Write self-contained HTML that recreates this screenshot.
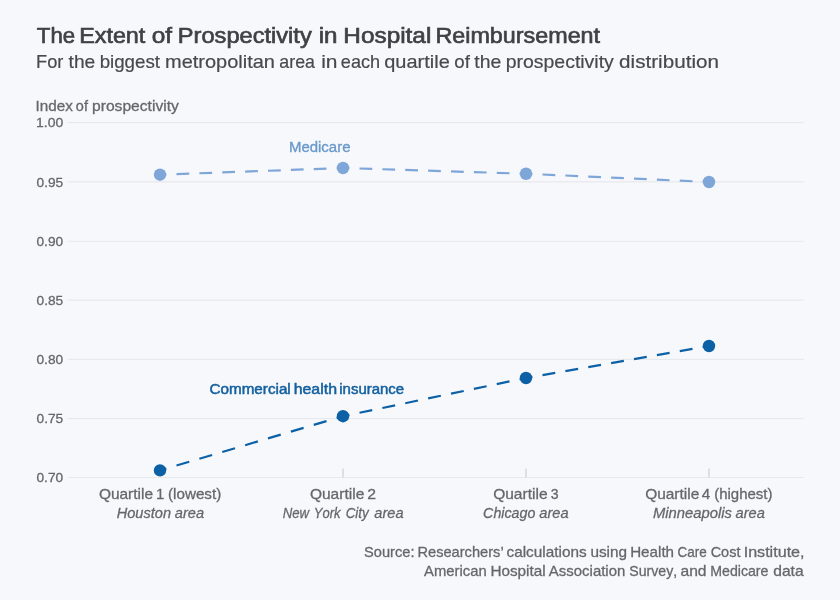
<!DOCTYPE html>
<html>
<head>
<meta charset="utf-8">
<title>The Extent of Prospectivity in Hospital Reimbursement</title>
<style>
  html, body { margin: 0; padding: 0; background: #f7f8fc; }
  body { width: 840px; height: 600px; overflow: hidden; }
  svg { display: block; position: absolute; left: 0; top: 0; will-change: transform; }
  text { font-family: "Liberation Sans", sans-serif; font-kerning: none; }
</style>
</head>
<body>
<svg width="840" height="600" viewBox="0 0 840 600">
  <rect x="0" y="0" width="840" height="600" fill="#f7f8fc"/>

  <!-- Title -->
  <g>
    <text x="36.83" y="43.375" font-size="22.17" fill="#404144" stroke="#404144" stroke-width="0.65" stroke-linejoin="miter" textLength="38.34" lengthAdjust="spacingAndGlyphs">The</text>
    <text x="79.16" y="43.375" font-size="22.17" fill="#404144" stroke="#404144" stroke-width="0.65" stroke-linejoin="miter" textLength="66.19" lengthAdjust="spacingAndGlyphs">Extent</text>
    <text x="151.80" y="43.375" font-size="22.17" fill="#404144" stroke="#404144" stroke-width="0.65" stroke-linejoin="miter" textLength="20.34" lengthAdjust="spacingAndGlyphs">of</text>
    <text x="177.89" y="43.375" font-size="22.17" fill="#404144" stroke="#404144" stroke-width="0.65" stroke-linejoin="miter" textLength="133.83" lengthAdjust="spacingAndGlyphs">Prospectivity</text>
    <text x="318.71" y="43.375" font-size="22.17" fill="#404144" stroke="#404144" stroke-width="0.65" stroke-linejoin="miter" textLength="18.78" lengthAdjust="spacingAndGlyphs">in</text>
    <text x="343.33" y="43.375" font-size="22.17" fill="#404144" stroke="#404144" stroke-width="0.65" stroke-linejoin="miter" textLength="87.98" lengthAdjust="spacingAndGlyphs">Hospital</text>
    <text x="435.41" y="43.375" font-size="22.17" fill="#404144" stroke="#404144" stroke-width="0.65" stroke-linejoin="miter" textLength="164.68" lengthAdjust="spacingAndGlyphs">Reimbursement</text>
  </g>
  <!-- Subtitle -->
  <g>
    <text x="36.10" y="67.7" font-size="19.04" fill="#48494d" stroke="#48494d" stroke-width="0.2" stroke-linejoin="miter" textLength="27.35" lengthAdjust="spacingAndGlyphs">For</text>
    <text x="68.56" y="67.7" font-size="19.04" fill="#48494d" stroke="#48494d" stroke-width="0.2" stroke-linejoin="miter" textLength="26.69" lengthAdjust="spacingAndGlyphs">the</text>
    <text x="99.64" y="67.7" font-size="19.04" fill="#48494d" stroke="#48494d" stroke-width="0.2" stroke-linejoin="miter" textLength="60.39" lengthAdjust="spacingAndGlyphs">biggest</text>
    <text x="165.02" y="67.7" font-size="19.04" fill="#48494d" stroke="#48494d" stroke-width="0.2" stroke-linejoin="miter" textLength="109.92" lengthAdjust="spacingAndGlyphs">metropolitan</text>
    <text x="279.35" y="67.7" font-size="19.04" fill="#48494d" stroke="#48494d" stroke-width="0.2" stroke-linejoin="miter" textLength="35.55" lengthAdjust="spacingAndGlyphs">area</text>
    <text x="321.20" y="67.7" font-size="19.04" fill="#48494d" stroke="#48494d" stroke-width="0.2" stroke-linejoin="miter" textLength="16.31" lengthAdjust="spacingAndGlyphs">in</text>
    <text x="340.83" y="67.7" font-size="19.04" fill="#48494d" stroke="#48494d" stroke-width="0.2" stroke-linejoin="miter" textLength="39.24" lengthAdjust="spacingAndGlyphs">each</text>
    <text x="384.26" y="67.7" font-size="19.04" fill="#48494d" stroke="#48494d" stroke-width="0.2" stroke-linejoin="miter" textLength="65.53" lengthAdjust="spacingAndGlyphs">quartile</text>
    <text x="454.32" y="67.7" font-size="19.04" fill="#48494d" stroke="#48494d" stroke-width="0.2" stroke-linejoin="miter" textLength="15.56" lengthAdjust="spacingAndGlyphs">of</text>
    <text x="474.31" y="67.7" font-size="19.04" fill="#48494d" stroke="#48494d" stroke-width="0.2" stroke-linejoin="miter" textLength="26.96" lengthAdjust="spacingAndGlyphs">the</text>
    <text x="505.65" y="67.7" font-size="19.04" fill="#48494d" stroke="#48494d" stroke-width="0.2" stroke-linejoin="miter" textLength="108.19" lengthAdjust="spacingAndGlyphs">prospectivity</text>
    <text x="619.13" y="67.7" font-size="19.04" fill="#48494d" stroke="#48494d" stroke-width="0.2" stroke-linejoin="miter" textLength="99.81" lengthAdjust="spacingAndGlyphs">distribution</text>
  </g>
  <!-- Axis title -->
  <g>
    <text x="35.64" y="110.55" font-size="15.12" fill="#66676b" stroke="#66676b" stroke-width="0.3" stroke-linejoin="miter" textLength="37.27" lengthAdjust="spacingAndGlyphs">Index</text>
    <text x="75.84" y="110.55" font-size="15.12" fill="#66676b" stroke="#66676b" stroke-width="0.3" stroke-linejoin="miter" textLength="12.09" lengthAdjust="spacingAndGlyphs">of</text>
    <text x="92.04" y="110.55" font-size="15.12" fill="#66676b" stroke="#66676b" stroke-width="0.3" stroke-linejoin="miter" textLength="86.84" lengthAdjust="spacingAndGlyphs">prospectivity</text>
  </g>
  <!-- Gridlines -->
  <g stroke="#e8e9ed" stroke-width="1.1">
    <line x1="67.5" x2="803.8" y1="122.60" y2="122.60"/>
    <line x1="67.5" x2="803.8" y1="181.90" y2="181.90"/>
    <line x1="67.5" x2="803.8" y1="241.25" y2="241.25"/>
    <line x1="67.5" x2="803.8" y1="300.15" y2="300.15"/>
    <line x1="67.5" x2="803.8" y1="359.35" y2="359.35"/>
    <line x1="67.5" x2="803.8" y1="418.60" y2="418.60"/>
    <line x1="67.5" x2="803.8" y1="477.50" y2="477.50"/>
  </g>
  <!-- X ticks -->
  <g stroke="#d3d4d8" stroke-width="1.4">
    <line x1="343" x2="343" y1="468.5" y2="477.5"/>
    <line x1="526" x2="526" y1="468.5" y2="477.5"/>
    <line x1="709" x2="709" y1="468.5" y2="477.5"/>
  </g>
  <!-- Y labels -->
  <g>
    <text x="35.99" y="127.25" font-size="13.66" fill="#66676b" stroke="#66676b" stroke-width="0.3" stroke-linejoin="miter" textLength="27.21" lengthAdjust="spacingAndGlyphs">1.00</text>
    <text x="36.51" y="186.54999999999998" font-size="13.66" fill="#66676b" stroke="#66676b" stroke-width="0.3" stroke-linejoin="miter" textLength="26.71" lengthAdjust="spacingAndGlyphs">0.95</text>
    <text x="36.51" y="245.9" font-size="13.66" fill="#66676b" stroke="#66676b" stroke-width="0.3" stroke-linejoin="miter" textLength="26.67" lengthAdjust="spacingAndGlyphs">0.90</text>
    <text x="36.51" y="304.8" font-size="13.66" fill="#66676b" stroke="#66676b" stroke-width="0.3" stroke-linejoin="miter" textLength="26.71" lengthAdjust="spacingAndGlyphs">0.85</text>
    <text x="36.51" y="364.0" font-size="13.66" fill="#66676b" stroke="#66676b" stroke-width="0.3" stroke-linejoin="miter" textLength="26.67" lengthAdjust="spacingAndGlyphs">0.80</text>
    <text x="36.51" y="423.25" font-size="13.66" fill="#66676b" stroke="#66676b" stroke-width="0.3" stroke-linejoin="miter" textLength="26.71" lengthAdjust="spacingAndGlyphs">0.75</text>
    <text x="36.51" y="482.15000000000003" font-size="13.66" fill="#66676b" stroke="#66676b" stroke-width="0.3" stroke-linejoin="miter" textLength="26.67" lengthAdjust="spacingAndGlyphs">0.70</text>
  </g>
  <!-- Medicare series -->
  <g stroke="#7ea6d8" stroke-width="2.2" fill="none">
    <line x1="160" y1="174.7" x2="343" y2="168" pathLength="8" stroke-dasharray="0.557 0.443" stroke-dashoffset="0.2785"/>
    <line x1="343" y1="168" x2="526" y2="173.75" pathLength="8" stroke-dasharray="0.557 0.443" stroke-dashoffset="0.2785"/>
    <line x1="526" y1="173.75" x2="709" y2="182" pathLength="8" stroke-dasharray="0.557 0.443" stroke-dashoffset="0.2785"/>
  </g>
  <g fill="#7ea6d8">
    <circle cx="160" cy="174.7" r="6.2"/>
    <circle cx="343" cy="168" r="6.2"/>
    <circle cx="526" cy="173.75" r="6.2"/>
    <circle cx="709" cy="182" r="6.2"/>
  </g>
  <!-- Commercial series -->
  <g stroke="#0c60a6" stroke-width="2.2" fill="none">
    <line x1="160" y1="470.4" x2="343" y2="416.2" pathLength="8" stroke-dasharray="0.557 0.443" stroke-dashoffset="0.2785"/>
    <line x1="343" y1="416.2" x2="526" y2="378" pathLength="8" stroke-dasharray="0.557 0.443" stroke-dashoffset="0.2785"/>
    <line x1="526" y1="378" x2="709" y2="346" pathLength="8" stroke-dasharray="0.557 0.443" stroke-dashoffset="0.2785"/>
  </g>
  <g fill="#0c60a6">
    <circle cx="160" cy="470.4" r="6.2"/>
    <circle cx="343" cy="416.2" r="6.2"/>
    <circle cx="526" cy="378" r="6.2"/>
    <circle cx="709" cy="346" r="6.2"/>
  </g>
  <!-- Series labels -->
  <g>
    <text x="288.95" y="151.52499999999998" font-size="14.75" fill="#6a9acb" stroke="#6a9acb" stroke-width="0.35" stroke-linejoin="miter" textLength="61.54" lengthAdjust="spacingAndGlyphs">Medicare</text>
    <text x="209.48" y="393.55" font-size="14.68" fill="#13609f" stroke="#13609f" stroke-width="0.5" stroke-linejoin="miter" textLength="81.29" lengthAdjust="spacingAndGlyphs">Commercial</text>
    <text x="293.65" y="393.55" font-size="14.68" fill="#13609f" stroke="#13609f" stroke-width="0.5" stroke-linejoin="miter" textLength="43.39" lengthAdjust="spacingAndGlyphs">health</text>
    <text x="339.25" y="393.55" font-size="14.68" fill="#13609f" stroke="#13609f" stroke-width="0.5" stroke-linejoin="miter" textLength="64.92" lengthAdjust="spacingAndGlyphs">insurance</text>
  </g>
  <!-- X labels -->
  <g>
    <text x="98.92" y="498.75" font-size="15.41" fill="#66676b" stroke="#66676b" stroke-width="0.3" stroke-linejoin="miter" textLength="54.12" lengthAdjust="spacingAndGlyphs">Quartile</text>
    <text x="156.01" y="498.75" font-size="15.41" fill="#66676b" stroke="#66676b" stroke-width="0.3" stroke-linejoin="miter" textLength="8.32" lengthAdjust="spacingAndGlyphs">1</text>
    <text x="167.96" y="498.75" font-size="15.41" fill="#66676b" stroke="#66676b" stroke-width="0.3" stroke-linejoin="miter" textLength="53.34" lengthAdjust="spacingAndGlyphs">(lowest)</text>
    <text x="309.91" y="498.75" font-size="15.41" fill="#66676b" stroke="#66676b" stroke-width="0.3" stroke-linejoin="miter" textLength="54.38" lengthAdjust="spacingAndGlyphs">Quartile</text>
    <text x="367.36" y="498.75" font-size="15.41" fill="#66676b" stroke="#66676b" stroke-width="0.3" stroke-linejoin="miter" textLength="8.79" lengthAdjust="spacingAndGlyphs">2</text>
    <text x="493.16" y="498.75" font-size="15.41" fill="#66676b" stroke="#66676b" stroke-width="0.3" stroke-linejoin="miter" textLength="54.38" lengthAdjust="spacingAndGlyphs">Quartile</text>
    <text x="550.86" y="498.75" font-size="15.41" fill="#66676b" stroke="#66676b" stroke-width="0.3" stroke-linejoin="miter" textLength="7.86" lengthAdjust="spacingAndGlyphs">3</text>
    <text x="645.17" y="498.75" font-size="15.41" fill="#66676b" stroke="#66676b" stroke-width="0.3" stroke-linejoin="miter" textLength="54.12" lengthAdjust="spacingAndGlyphs">Quartile</text>
    <text x="701.80" y="498.75" font-size="15.41" fill="#66676b" stroke="#66676b" stroke-width="0.3" stroke-linejoin="miter" textLength="8.50" lengthAdjust="spacingAndGlyphs">4</text>
    <text x="714.22" y="498.75" font-size="15.41" fill="#66676b" stroke="#66676b" stroke-width="0.3" stroke-linejoin="miter" textLength="58.31" lengthAdjust="spacingAndGlyphs">(highest)</text>
    <text x="116.70" y="517.95" font-size="15.41" font-style="italic" fill="#66676b" stroke="#66676b" stroke-width="0.3" stroke-linejoin="miter" textLength="54.31" lengthAdjust="spacingAndGlyphs">Houston</text>
    <text x="174.82" y="517.95" font-size="15.41" font-style="italic" fill="#66676b" stroke="#66676b" stroke-width="0.3" stroke-linejoin="miter" textLength="29.28" lengthAdjust="spacingAndGlyphs">area</text>
    <text x="282.74" y="517.95" font-size="15.41" font-style="italic" fill="#66676b" stroke="#66676b" stroke-width="0.3" stroke-linejoin="miter" textLength="26.40" lengthAdjust="spacingAndGlyphs">New</text>
    <text x="313.80" y="517.95" font-size="15.41" font-style="italic" fill="#66676b" stroke="#66676b" stroke-width="0.3" stroke-linejoin="miter" textLength="26.76" lengthAdjust="spacingAndGlyphs">York</text>
    <text x="345.66" y="517.95" font-size="15.41" font-style="italic" fill="#66676b" stroke="#66676b" stroke-width="0.3" stroke-linejoin="miter" textLength="23.02" lengthAdjust="spacingAndGlyphs">City</text>
    <text x="374.32" y="517.95" font-size="15.41" font-style="italic" fill="#66676b" stroke="#66676b" stroke-width="0.3" stroke-linejoin="miter" textLength="29.28" lengthAdjust="spacingAndGlyphs">area</text>
    <text x="483.12" y="517.95" font-size="15.41" font-style="italic" fill="#66676b" stroke="#66676b" stroke-width="0.3" stroke-linejoin="miter" textLength="52.19" lengthAdjust="spacingAndGlyphs">Chicago</text>
    <text x="539.32" y="517.95" font-size="15.41" font-style="italic" fill="#66676b" stroke="#66676b" stroke-width="0.3" stroke-linejoin="miter" textLength="29.28" lengthAdjust="spacingAndGlyphs">area</text>
    <text x="652.94" y="517.95" font-size="15.41" font-style="italic" fill="#66676b" stroke="#66676b" stroke-width="0.3" stroke-linejoin="miter" textLength="78.96" lengthAdjust="spacingAndGlyphs">Minneapolis</text>
    <text x="735.57" y="517.95" font-size="15.41" font-style="italic" fill="#66676b" stroke="#66676b" stroke-width="0.3" stroke-linejoin="miter" textLength="29.28" lengthAdjust="spacingAndGlyphs">area</text>
  </g>
  <!-- Source -->
  <g>
    <text x="364.09" y="556.85" font-size="15.41" fill="#66676b" stroke="#66676b" stroke-width="0.3" stroke-linejoin="miter" textLength="50.40" lengthAdjust="spacingAndGlyphs">Source:</text>
    <text x="417.45" y="556.85" font-size="15.41" fill="#66676b" stroke="#66676b" stroke-width="0.3" stroke-linejoin="miter" textLength="86.21" lengthAdjust="spacingAndGlyphs">Researchers&#8217;</text>
    <text x="506.50" y="556.85" font-size="15.41" fill="#66676b" stroke="#66676b" stroke-width="0.3" stroke-linejoin="miter" textLength="80.16" lengthAdjust="spacingAndGlyphs">calculations</text>
    <text x="590.40" y="556.85" font-size="15.41" fill="#66676b" stroke="#66676b" stroke-width="0.3" stroke-linejoin="miter" textLength="36.69" lengthAdjust="spacingAndGlyphs">using</text>
    <text x="630.15" y="556.85" font-size="15.41" fill="#66676b" stroke="#66676b" stroke-width="0.3" stroke-linejoin="miter" textLength="43.93" lengthAdjust="spacingAndGlyphs">Health</text>
    <text x="677.47" y="556.85" font-size="15.41" fill="#66676b" stroke="#66676b" stroke-width="0.3" stroke-linejoin="miter" textLength="29.23" lengthAdjust="spacingAndGlyphs">Care</text>
    <text x="710.66" y="556.85" font-size="15.41" fill="#66676b" stroke="#66676b" stroke-width="0.3" stroke-linejoin="miter" textLength="29.79" lengthAdjust="spacingAndGlyphs">Cost</text>
    <text x="743.66" y="556.85" font-size="15.41" fill="#66676b" stroke="#66676b" stroke-width="0.3" stroke-linejoin="miter" textLength="60.88" lengthAdjust="spacingAndGlyphs">Institute,</text>
    <text x="424.12" y="575.75" font-size="15.41" fill="#66676b" stroke="#66676b" stroke-width="0.3" stroke-linejoin="miter" textLength="62.59" lengthAdjust="spacingAndGlyphs">American</text>
    <text x="490.39" y="575.75" font-size="15.41" fill="#66676b" stroke="#66676b" stroke-width="0.3" stroke-linejoin="miter" textLength="55.28" lengthAdjust="spacingAndGlyphs">Hospital</text>
    <text x="548.87" y="575.75" font-size="15.41" fill="#66676b" stroke="#66676b" stroke-width="0.3" stroke-linejoin="miter" textLength="76.45" lengthAdjust="spacingAndGlyphs">Association</text>
    <text x="629.26" y="575.75" font-size="15.41" fill="#66676b" stroke="#66676b" stroke-width="0.3" stroke-linejoin="miter" textLength="47.86" lengthAdjust="spacingAndGlyphs">Survey,</text>
    <text x="680.48" y="575.75" font-size="15.41" fill="#66676b" stroke="#66676b" stroke-width="0.3" stroke-linejoin="miter" textLength="26.12" lengthAdjust="spacingAndGlyphs">and</text>
    <text x="710.24" y="575.75" font-size="15.41" fill="#66676b" stroke="#66676b" stroke-width="0.3" stroke-linejoin="miter" textLength="58.24" lengthAdjust="spacingAndGlyphs">Medicare</text>
    <text x="773.25" y="575.75" font-size="15.41" fill="#66676b" stroke="#66676b" stroke-width="0.3" stroke-linejoin="miter" textLength="30.35" lengthAdjust="spacingAndGlyphs">data</text>
  </g>
</svg>
</body>
</html>
